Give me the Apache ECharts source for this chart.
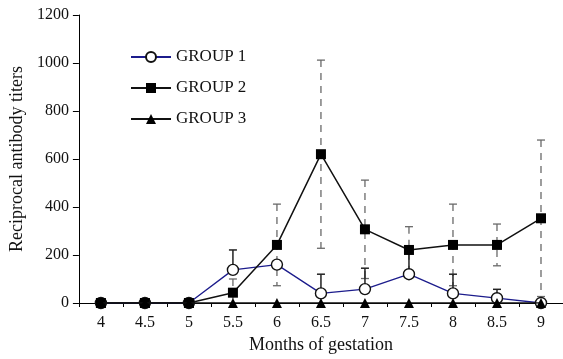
<!DOCTYPE html>
<html>
<head>
<meta charset="utf-8">
<script src="https://cdn.jsdelivr.net/npm/echarts@6/dist/echarts.min.js"></script>
<style>html,body{margin:0;padding:0;background:#fff;}#chart{width:563px;height:359px;}</style>
</head>
<body>
<div id="chart"></div>
<script>
var categories = ['4', '4.5', '5', '5.5', '6', '6.5', '7', '7.5', '8', '8.5', '9'];
var yTicks = [0, 200, 400, 600, 800, 1000, 1200];
var group1 = [0, 0, 0, 138, 160, 40, 58, 120, 40, 20, 0];
var group1Err = [0, 0, 0, 83, 0, 80, 87, 100, 80, 37, 0];
var group2 = [0, 0, 0, 43, 242, 620, 307, 221, 242, 242, 353];
var group2Err = [0, 0, 0, 57, 170, 392, 205, 97, 170, 87, 326];
var group3 = [0, 0, 0, 0, 0, 0, 0, 0, 0, 0, 0];
var seriesNames = ['GROUP 1', 'GROUP 2', 'GROUP 3'];

var FONT = 'Liberation Serif';
var chart = echarts.init(document.getElementById('chart'), null, {renderer: 'canvas'});

function errData(vals, errs) {
  return vals.map(function (v, i) { return [i, v, errs[i]]; });
}

function upperOnly(params, api) {
  var i = api.value(0), v = api.value(1), e = api.value(2);
  if (!e) return null;
  var p0 = api.coord([i, v]);
  var p1 = api.coord([i, v + e]);
  var hw = 4;
  var st = {stroke: '#222', lineWidth: 1.5};
  return {type: 'group', children: [
    {type: 'line', shape: {x1: p0[0], y1: p0[1], x2: p1[0], y2: p1[1]}, style: st},
    {type: 'line', shape: {x1: p1[0] - hw, y1: p1[1], x2: p1[0] + hw, y2: p1[1]}, style: st}
  ]};
}

function bothDashed(params, api) {
  var i = api.value(0), v = api.value(1), e = api.value(2);
  if (!e) return null;
  var lo = Math.max(0, v - e);
  var pHi = api.coord([i, v + e]);
  var pLo = api.coord([i, lo]);
  var hw = 4;
  var st = {stroke: '#6a6a6a', lineWidth: 1.3, lineDash: [7, 6]};
  var cs = {stroke: '#6a6a6a', lineWidth: 1.3};
  var ch = [
    {type: 'line', shape: {x1: pHi[0], y1: pHi[1], x2: pLo[0], y2: pLo[1]}, style: st},
    {type: 'line', shape: {x1: pHi[0] - hw, y1: pHi[1], x2: pHi[0] + hw, y2: pHi[1]}, style: cs}
  ];
  if (v - e > 0) {
    ch.push({type: 'line', shape: {x1: pLo[0] - hw, y1: pLo[1], x2: pLo[0] + hw, y2: pLo[1]}, style: cs});
  }
  return {type: 'group', children: ch};
}

var option = {
  backgroundColor: '#fff',
  animation: false,
  textStyle: {fontFamily: FONT, color: '#000'},
  grid: {left: 78.5, top: 15, width: 489, height: 288, containLabel: false},
  legend: {
    data: seriesNames,
    orient: 'vertical',
    left: 130,
    top: 48.5,
    padding: 0,
    itemWidth: 40,
    itemHeight: 12.5,
    itemGap: 14,
    textStyle: {fontFamily: FONT, fontSize: 17, color: '#111'}
  },
  xAxis: {
    type: 'category',
    data: categories,
    boundaryGap: true,
    name: 'Months of gestation',
    nameLocation: 'middle',
    nameGap: 33,
    nameTextStyle: {fontFamily: FONT, fontSize: 18, color: '#111'},
    axisLine: {lineStyle: {color: '#000', width: 1}},
    axisTick: {show: true, length: 4, lineStyle: {color: '#000'}},
    axisLabel: {fontFamily: FONT, fontSize: 16, color: '#111', margin: 12},
    splitLine: {show: false}
  },
  yAxis: {
    type: 'value',
    min: yTicks[0],
    max: yTicks[yTicks.length - 1],
    interval: yTicks[1] - yTicks[0],
    name: 'Reciprocal antibody titers',
    nameLocation: 'middle',
    nameGap: 52,
    nameTextStyle: {fontFamily: FONT, fontSize: 18, color: '#111'},
    axisLine: {show: true, lineStyle: {color: '#000', width: 1}},
    axisTick: {show: true, length: 6, lineStyle: {color: '#000'}},
    axisLabel: {fontFamily: FONT, fontSize: 16, color: '#111', margin: 10, formatter: function (v) { return String(v); }},
    splitLine: {show: false}
  },
  series: [
    {type: 'custom', renderItem: bothDashed, data: errData(group2, group2Err), z: 1, silent: true},
    {type: 'custom', renderItem: upperOnly, data: errData(group1, group1Err), z: 1, silent: true},
    {
      name: seriesNames[0], type: 'line', data: group1, z: 2,
      symbol: 'circle', symbolSize: 11,
      lineStyle: {color: '#1c1c8c', width: 1.3},
      itemStyle: {color: '#fff', borderColor: '#111', borderWidth: 1.4}
    },
    {
      name: seriesNames[1], type: 'line', data: group2, z: 3,
      symbol: 'rect', symbolSize: 10,
      lineStyle: {color: '#111', width: 1.5},
      itemStyle: {color: '#000'}
    },
    {
      name: seriesNames[2], type: 'line', data: group3, z: 4,
      symbol: 'triangle', symbolSize: 10,
      lineStyle: {color: '#111', width: 1.5},
      itemStyle: {color: '#000'}
    }
  ]
};
chart.setOption(option);
</script>
</body>
</html>
